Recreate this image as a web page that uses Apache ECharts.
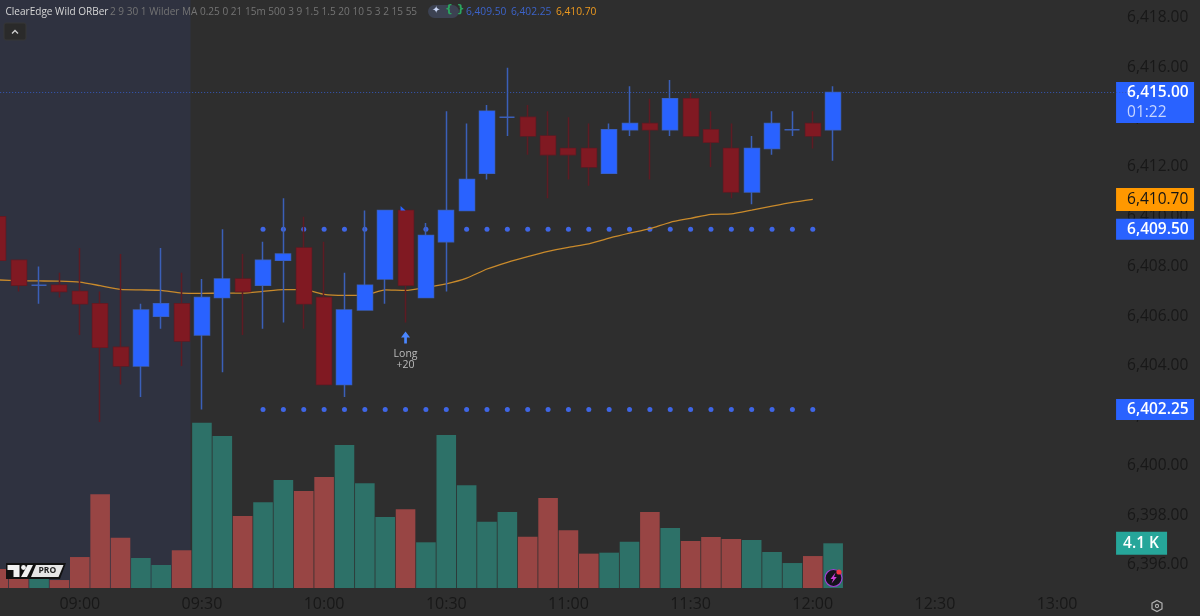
<!DOCTYPE html>
<html><head><meta charset="utf-8">
<style>html,body{margin:0;padding:0;background:#2e2e2e}#c{width:1200px;height:616px}</style>
<script src="https://cdn.jsdelivr.net/npm/echarts@6/dist/echarts.min.js"></script>
</head><body><div id="c"></div>
<script>
const times=['08:40','08:45','08:50','08:55','09:00','09:05','09:10','09:15','09:20','09:25','09:30','09:35','09:40','09:45','09:50','09:55','10:00','10:05','10:10','10:15','10:20','10:25','10:30','10:35','10:40','10:45','10:50','10:55','11:00','11:05','11:10','11:15','11:20','11:25','11:30','11:35','11:40','11:45','11:50','11:55','12:00','12:05','12:10','12:15','12:20','12:25','12:30','12:35','12:40','12:45','12:50','12:55','13:00','13:05','13:10','13:15'];
const opens=[6410,6408.25,6407.25,6407.25,6407,6406.5,6404.75,6404,6406,6406.5,6405.25,6406.75,6407.5,6407.25,6408.25,6408.75,6406.75,6403.25,6406.25,6407.5,6410.25,6406.75,6409,6410.25,6411.75,6414,6414,6413.25,6412.75,6412.75,6411.75,6413.5,6413.75,6413.5,6414.75,6413.5,6412.75,6411,6412.75,6413.5,6413.75,6413.5];
const closes=[6408.25,6407.25,6407.25,6407,6406.5,6404.75,6404,6406.25,6406.5,6405,6406.75,6407.5,6407,6408.25,6408.5,6406.5,6403.25,6406.25,6407.25,6410.25,6407.25,6409.25,6410.25,6411.5,6414.25,6414,6413.25,6412.5,6412.5,6412,6413.5,6413.75,6413.5,6414.75,6413.25,6413,6411,6412.75,6413.75,6413.5,6413.25,6415];
const lows=[6408.25,6407,6406.5,6406.75,6405.25,6401.75,6403.25,6402.75,6405.5,6404,6402.25,6403.75,6405.25,6405.5,6405.75,6405.5,6403.25,6402.75,6406.25,6406.5,6405.75,6406.75,6407,6410.25,6411.5,6413.25,6412.5,6410.75,6411.5,6411.25,6411.75,6413.25,6411.5,6413.25,6413.25,6412,6410.75,6410.5,6412.5,6413.25,6412.75,6412.25];
const highs=[6410,6408.25,6408,6407.75,6408.75,6407,6408.5,6406.5,6408.75,6407.75,6407.5,6409.5,6408.5,6409,6410.75,6410,6409,6407.75,6410.25,6410.25,6410.25,6409.75,6414.25,6413.75,6414.5,6416,6414.5,6414.25,6414,6413.75,6413.75,6415.25,6414.75,6415.5,6415,6414.25,6413.75,6413.25,6414.25,6414.25,6414.25,6415.25];
const volumes=[1.74,1.13,0.89,0.73,2.84,8.59,4.61,2.75,2.11,3.46,15.16,13.94,6.6,7.86,9.9,8.89,10.18,13.11,9.6,6.51,7.22,4.19,14.03,9.42,6.08,6.97,4.7,8.25,5.29,3.15,3.24,4.25,6.97,5.5,4.31,4.68,4.49,4.4,3.3,2.29,2.93,4.1];
const orbHigh=[null,null,null,null,null,null,null,null,null,null,null,null,null,6409.5,6409.5,6409.5,6409.5,6409.5,6409.5,6409.5,6409.5,6409.5,6409.5,6409.5,6409.5,6409.5,6409.5,6409.5,6409.5,6409.5,6409.5,6409.5,6409.5,6409.5,6409.5,6409.5,6409.5,6409.5,6409.5,6409.5,6409.5];
const orbLow=[null,null,null,null,null,null,null,null,null,null,null,null,null,6402.25,6402.25,6402.25,6402.25,6402.25,6402.25,6402.25,6402.25,6402.25,6402.25,6402.25,6402.25,6402.25,6402.25,6402.25,6402.25,6402.25,6402.25,6402.25,6402.25,6402.25,6402.25,6402.25,6402.25,6402.25,6402.25,6402.25,6402.25];
const maLine=[6407.46,6407.43,6407.42,6407.41,6407.37,6407.23,6407.08,6407.06,6407.04,6406.93,6406.92,6406.93,6406.93,6407.0,6407.07,6407.07,6406.88,6406.84,6406.85,6407.06,6407.04,6407.16,6407.3,6407.53,6407.9,6408.17,6408.4,6408.61,6408.77,6408.91,6409.14,6409.34,6409.52,6409.78,6409.94,6410.1,6410.12,6410.27,6410.43,6410.58,6410.7];
const sessionSpan=[-0.5,9.44];
const priceTicks=[6396,6398,6400,6402,6404,6406,6408,6410,6412,6414,6416,6418];
const priceTags=[6410.7,6409.5,6402.25,6415];
const lastPrice=6415, countdown='01:22', lastVolume=4.1;
const legendName='ClearEdge Wild ORBer';
const legendInputs='2 9 30 1 Wilder MA 0.25 0 21 15m 500 3 9 1.5 1.5 20 10 5 3 2 15 55';
const legendValues=['6,409.50','6,402.25','6,410.70'];

const FONT='"Open Sans",sans-serif';
const fmt=v=>v.toLocaleString('en-US',{minimumFractionDigits:2,maximumFractionDigits:2});
const BLUE='#2962ff',RED='#801922',WBLUE='#3b5fb8',WRED='#5e1b23',GREEN='#2d7168',VRED='#984544',DIM='#181818';
const candles=opens.map((o,i)=>[o,closes[i],lows[i],highs[i]]);
const bodies=opens.map((o,i)=>[o,closes[i],Math.min(o,closes[i]),Math.max(o,closes[i])]);
const volBars=volumes.map((v,i)=>({value:v,itemStyle:{color:closes[i]>=opens[i]?GREEN:VRED}}));
const tagBase={fontFamily:FONT,fontSize:15.5,fontWeight:600,width:67,height:23,lineHeight:23,padding:[0,0,0,11],align:'left'};
const head=(text,x,fill,font,sx)=>({type:'text',z:50,x:x,y:11.7,scaleX:sx,style:{text:text,fill:fill,font:font,verticalAlign:'middle'}});

const chart=echarts.init(document.getElementById('c'),null,{renderer:'canvas'});
chart.setOption({
  animation:false,backgroundColor:'#2e2e2e',
  grid:{left:-11.84,top:0,width:1140.2,height:588,outerBoundsMode:'none'},
  xAxis:[
    {type:'category',data:times,position:'bottom',boundaryGap:true,axisLine:{show:false},axisTick:{show:false},splitLine:{show:false},
     axisLabel:{color:DIM,fontFamily:FONT,fontSize:16,margin:8,hideOverlap:false,
       interval:(i,v)=>/:(00|30)$/.test(v)}},
    {type:'value',show:false,position:'top',min:-0.5,max:55.5}
  ],
  yAxis:[
    {type:'value',position:'right',min:6395.07,max:6418.72,scale:true,axisLine:{show:false},axisTick:{show:false},splitLine:{show:false},
     axisLabel:{margin:-12.3,align:'left',customValues:priceTicks.concat(priceTags),
       formatter:v=>{
         if(v===lastPrice) return '{sp| }\n{tb|'+fmt(v)+'}\n{tc|'+countdown+'}';
         if(v===6410.7) return '{to|'+fmt(v)+'}';
         if(priceTags.includes(v)) return '{tb|'+fmt(v)+'}';
         return '{dim|'+fmt(v)+'}';
       },
       rich:{
         dim:{color:DIM,fontFamily:FONT,fontSize:15.5,padding:[0,0,0,11],width:67,align:'left'},
         sp:{height:20,lineHeight:20,width:78,color:'transparent',fontSize:10},
         tb:Object.assign({},tagBase,{color:'#ffffff',backgroundColor:BLUE,height:21,lineHeight:21}),
         tc:Object.assign({},tagBase,{color:'#c6d5ff',backgroundColor:BLUE,fontWeight:500,height:20,lineHeight:20}),
         to:Object.assign({},tagBase,{color:'#151515',backgroundColor:'#ff9800',fontWeight:500})
       }}},
    {type:'value',position:'right',min:0,max:53.92,axisLine:{show:false},axisTick:{show:false},splitLine:{show:false},
     axisLabel:{margin:-12.3,align:'left',customValues:[lastVolume],
       formatter:v=>'{k|'+v.toFixed(1)+' K}',
       rich:{k:{color:'#ffffff',backgroundColor:'#26a69a',fontFamily:FONT,fontSize:15.5,fontWeight:600,width:44,height:23,lineHeight:23,padding:[0,0,0,7],align:'left'}}}},
    {type:'value',show:false,min:0,max:1}
  ],
  graphic:{elements:[
    head(legendName,5.5,'#d6d6d6','500 11px '+FONT,0.913),
    head(legendInputs,110,'#747474','11px '+FONT,0.913),
    {type:'rect',z:50,shape:{x:428,y:5,width:31,height:13,r:6.5},style:{fill:'#3c4252'}},
    {type:'text',z:51,x:432,y:5,style:{text:'✦',fill:'#c9d6f5',font:'10px "DejaVu Sans"'}},
    {type:'text',z:51,x:445,y:4,style:{text:'{ }',fill:'#2ba55f',font:'700 11px "DejaVu Sans"'}},
    head(legendValues[0],466,'#3c63c9','11px '+FONT,0.93),
    head(legendValues[1],511,'#3c63c9','11px '+FONT,0.93),
    head(legendValues[2],556,'#ee9a1f','11px '+FONT,0.93),
    {type:'rect',z:50,shape:{x:4,y:23,width:22,height:17,r:2},style:{fill:'#2a2a2a',stroke:'#363636',lineWidth:1}},
    {type:'polyline',z:51,shape:{points:[[12,33.5],[15,30.5],[18,33.5]]},style:{stroke:'#d0d0d0',lineWidth:1.3,fill:null}},
    {type:'polygon',z:50,shape:{points:[[6,563],[66,563],[60,579],[6,579]]},style:{fill:'#111'}},
    {type:'polygon',z:51,shape:{points:[[7.5,565],[19.5,565],[19.5,577],[13.5,577],[13.5,570],[7.5,570]]},style:{fill:'#f1f1f1'}},
    {type:'circle',z:51,shape:{cx:23.5,cy:567.5,r:2.4},style:{fill:'#f1f1f1'}},
    {type:'polygon',z:51,shape:{points:[[27.5,565],[33,565],[27,577],[21,577]]},style:{fill:'#f1f1f1'}},
    {type:'polygon',z:51,shape:{points:[[36,565],[63.5,565],[58.5,577],[31,577]]},style:{fill:'#e6e6e6'}},
    {type:'text',z:52,x:38.5,y:566,style:{text:'PRO',fill:'#222',font:'700 8.5px "Open Sans"'}},
    {type:'circle',z:50,shape:{cx:833.5,cy:578,r:8.5},style:{fill:'#15131c',stroke:'#a23fd6',lineWidth:1.2}},
    {type:'polygon',z:51,shape:{points:[[835.5,572.5],[830.5,579],[833.3,579],[831.5,583.5],[836.8,577],[834,577]]},style:{fill:'#cc3ed8'}},
    {type:'circle',z:52,shape:{cx:839,cy:572,r:2.6},style:{fill:'#f23645'}},
    {type:'polygon',z:50,shape:{points:[[1157,600.5],[1162,603.2],[1162,608.8],[1157,611.5],[1152,608.8],[1152,603.2]]},style:{fill:null,stroke:'#b0b0b0',lineWidth:1.2}},
    {type:'circle',z:50,shape:{cx:1157,cy:606,r:1.6},style:{fill:null,stroke:'#b0b0b0',lineWidth:1.1}}
  ]},
  series:[
    {name:'session',type:'line',xAxisIndex:1,yAxisIndex:2,data:[[sessionSpan[0],0]],showSymbol:false,z:0,silent:true,
     markArea:{silent:true,z:0,itemStyle:{color:'#2f3240'},label:{show:false},data:[[{xAxis:sessionSpan[0]},{xAxis:sessionSpan[1]}]]}},
    {name:'volume',type:'bar',xAxisIndex:0,yAxisIndex:1,data:volBars,barWidth:19.6,z:1,silent:true},
    {name:'orbHigh',type:'line',yAxisIndex:0,data:orbHigh,showAllSymbol:true,symbol:'circle',symbolSize:5,lineStyle:{width:0,opacity:0},itemStyle:{color:'#3f66e6'},z:2,silent:true},
    {name:'orbLow',type:'line',yAxisIndex:0,data:orbLow,showAllSymbol:true,symbol:'circle',symbolSize:5,lineStyle:{width:0,opacity:0},itemStyle:{color:'#3f66e6'},z:2,silent:true},
    {name:'ma',type:'line',yAxisIndex:0,data:maLine,showSymbol:false,smooth:0.2,lineStyle:{color:'#c98a2b',width:1.3},z:3,silent:true},
    {name:'wicks',type:'candlestick',yAxisIndex:0,data:candles,barWidth:15.5,z:4,silent:true,
     itemStyle:{color:WBLUE,color0:WRED,borderColor:WBLUE,borderColor0:WRED,borderColorDoji:WBLUE,borderWidth:1.5},
     markLine:{silent:true,symbol:'none',label:{show:false},lineStyle:{color:'#3558b8',type:[1,2],width:1},data:[{yAxis:lastPrice}]}},
    {name:'bodies',type:'candlestick',yAxisIndex:0,data:bodies,barWidth:15.5,z:5,silent:true,
     itemStyle:{color:BLUE,color0:RED,borderColor:BLUE,borderColor0:RED,borderWidth:0},
     markPoint:{silent:true,data:[
       {coord:[times[20],6405.15],symbol:'path://M5 0 L10 6 L6.5 6 L6.5 12 L3.5 12 L3.5 6 L0 6Z',symbolSize:[9,12],symbolKeepAspect:false,itemStyle:{color:'#4a86ff'},
        label:{show:true,position:'bottom',distance:5.5,formatter:'Long\n+20',color:'#bcbcbc',fontFamily:FONT,fontSize:10.5,lineHeight:11}},
       {coord:[times[20],6410.25],symbol:'path://M0 0 L6 5 L0 10Z',symbolSize:[5,9],symbolOffset:[-2.5,0],itemStyle:{color:BLUE},label:{show:false}}
     ]}}
  ]
});
</script></body></html>
